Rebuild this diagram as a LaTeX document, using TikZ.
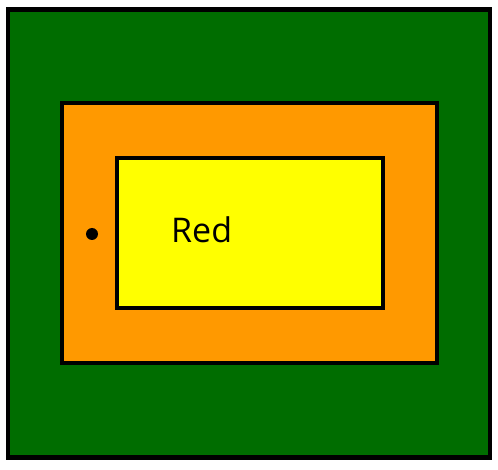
\documentclass[tikz,border=0pt]{standalone}
\usepackage{fontspec}
\setmainfont{Open Sans}
\definecolor{bggreen}{HTML}{006D00}
\definecolor{midorange}{HTML}{FF9900}
\definecolor{inyellow}{HTML}{FFFF00}
\tikzset{
  layer/.style={draw=black, line width=4.5pt},
}
\begin{document}
\begin{tikzpicture}[x=1pt,y=-1pt]
\useasboundingbox (0,0) rectangle (498,470);
\fill[white] (0,0) rectangle (498,470);
\path[layer, fill=bggreen] (8,9.5) rectangle (490,457.5);
\path[layer, fill=midorange] (62,103) rectangle (437,363);
\path[layer, fill=inyellow] (117,158) rectangle (383,308);
\fill[black] (92,234) circle (6);
\node[anchor=base west, inner sep=0pt, font=\fontsize{34}{40}\selectfont] (lbl) at (171,242.5) {Red};
\end{tikzpicture}
\end{document}
